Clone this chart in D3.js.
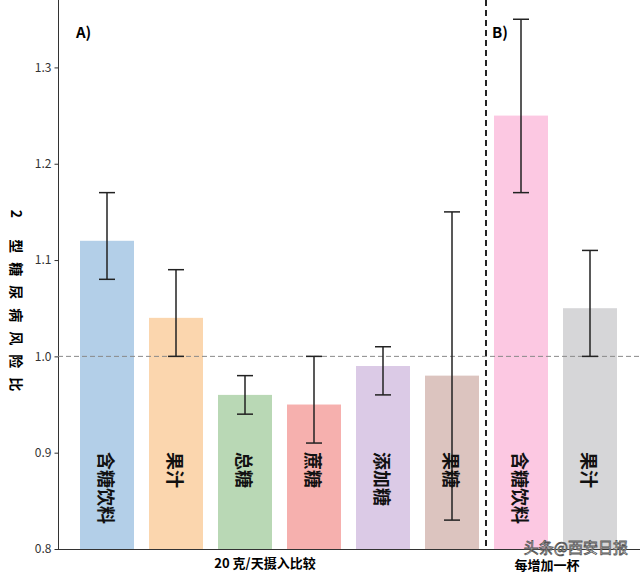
<!DOCTYPE html>
<html><head><meta charset="utf-8">
<script src="https://cdn.jsdelivr.net/npm/d3@7"></script>
<style>body{margin:0;background:#fff}text{font-family:"Noto Sans CJK SC","DejaVu Sans",sans-serif}</style>
</head><body><svg id="c" width="640" height="574"></svg>
<script>
const categories = ['含糖饮料', '果汁', '总糖', '蔗糖', '添加糖', '果糖', '含糖饮料', '果汁'];
const values = [1.12, 1.04, 0.96, 0.95, 0.99, 0.98, 1.25, 1.05];
const lower = [1.08, 1.00, 0.94, 0.91, 0.96, 0.83, 1.17, 1.00];
const upper = [1.17, 1.09, 0.98, 1.00, 1.01, 1.15, 1.35, 1.11];
const colors = ['#b3cfe8', '#fbd6ae', '#b9d8b5', '#f6b0ae', '#dbcae6', '#dcc4bf', '#fcc8e2', '#d6d6d8'];
const yTicks = [0.8, 0.9, 1.0, 1.1, 1.2, 1.3];

const svg = d3.select('#c');
const y = d3.scaleLinear().domain([0.8, 1.37]).range([549, 0]);
const x = d3.scaleLinear().domain([0, 7]).range([107, 590]);
const bw = 54;

svg.append('line').attr('x1', 58).attr('x2', 640).attr('y1', 549.5).attr('y2', 549.5).attr('stroke', '#333');
const ax = svg.append('g').attr('transform', 'translate(58.5,0)').call(d3.axisLeft(y).tickValues(yTicks).tickFormat(d3.format('.1f')).tickSize(4));
ax.select('.domain').attr('stroke', '#333').attr('d', 'M0,0V549');
ax.selectAll('text').attr('font-size', 12).attr('fill', '#333').attr('font-family', 'DejaVu Sans');
ax.selectAll('line').attr('stroke', '#333');

svg.selectAll('rect.bar').data(values).join('rect')
  .attr('x', (d, i) => x(i) - bw / 2).attr('width', bw)
  .attr('y', d => y(d)).attr('height', d => y(0.8) - y(d))
  .attr('fill', (d, i) => colors[i]);

svg.append('line').attr('x1', 58).attr('x2', 640).attr('y1', y(1)).attr('y2', y(1))
  .attr('stroke', '#888').attr('stroke-dasharray', '5,3');
svg.append('line').attr('x1', 486).attr('x2', 486).attr('y1', 0).attr('y2', 549)
  .attr('stroke', '#222').attr('stroke-width', 2).attr('stroke-dasharray', '6,4');

const eb = svg.append('g').attr('stroke', '#222').attr('stroke-width', 1.5);
values.forEach((d, i) => {
  eb.append('line').attr('x1', x(i)).attr('x2', x(i)).attr('y1', y(lower[i])).attr('y2', y(upper[i]));
  [lower[i], upper[i]].forEach(v => eb.append('line').attr('x1', x(i) - 8).attr('x2', x(i) + 8).attr('y1', y(v)).attr('y2', y(v)));
});

svg.selectAll('text.cat').data(categories).join('text')
  .attr('transform', (d, i) => `translate(${x(i) - 8},452) rotate(90)`)
  .attr('font-size', 18).attr('font-weight', 'bold').attr('fill', '#111').text(d => d);

svg.append('text').attr('x', 76).attr('y', 38).attr('font-size', 15).attr('font-weight', 'bold').text('A)');
svg.append('text').attr('x', 492).attr('y', 38).attr('font-size', 15).attr('font-weight', 'bold').text('B)');
svg.append('text').attr('x', 265).attr('y', 568).attr('text-anchor', 'middle').attr('font-size', 13).attr('font-weight', 'bold').text('20 克/天摄入比较');
svg.append('text').attr('x', 547).attr('y', 570).attr('text-anchor', 'middle').attr('font-size', 13).attr('font-weight', 'bold').text('每增加一杯');
svg.append('text').attr('transform', 'translate(11,305) rotate(90)').attr('text-anchor', 'middle')
  .attr('font-size', 14).attr('font-weight', 'bold').attr('letter-spacing', 9).text('2 型糖尿病风险比');
svg.append('text').attr('x', 628).attr('y', 553).attr('text-anchor', 'end').attr('font-size', 15).attr('fill', '#fff')
  .attr('stroke', '#555').attr('stroke-width', 0.8).text('头条@西安日报');
</script></body></html>
